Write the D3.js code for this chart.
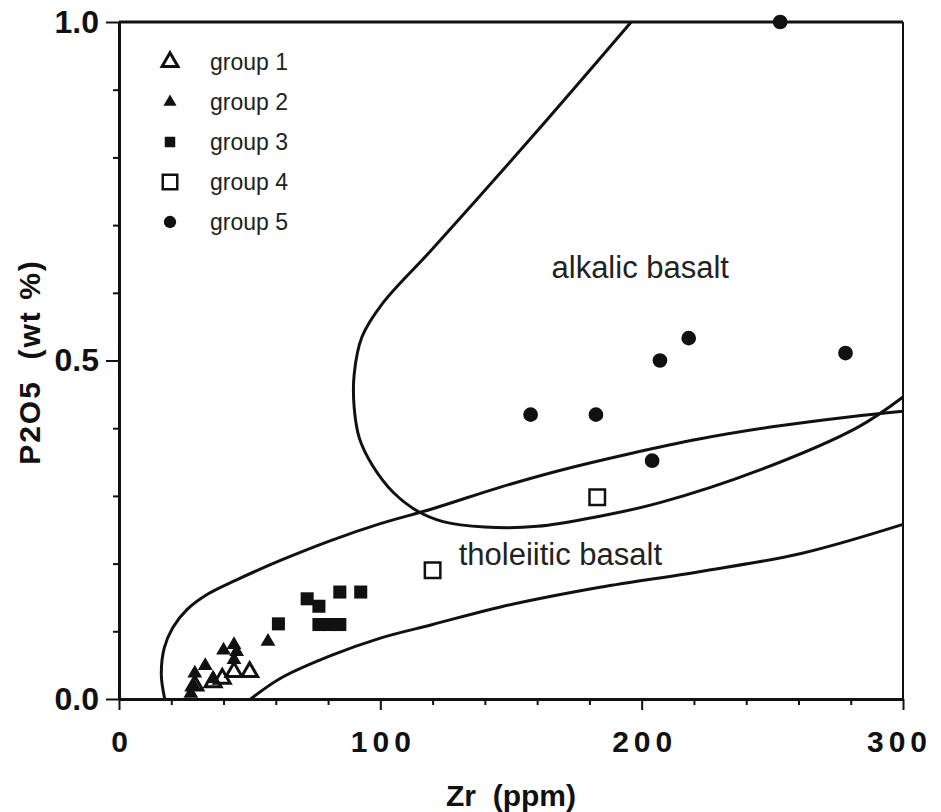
<!DOCTYPE html>
<html>
<head>
<meta charset="utf-8">
<script src="https://d3js.org/d3.v7.min.js"></script>
<style>
  body { margin: 0; background: #fff; }
  svg { font-family: "Liberation Sans", Arial, sans-serif; }
  .axis path, .axis line { stroke: #111; }
  .axis text { font-weight: bold; fill: #111; }
  .field { fill: none; stroke: #111; stroke-width: 3; }
  .legend text, .fieldlabel { fill: #222; }
</style>
</head>
<body>
<script>
// legend names
var groupNames = ["group 1", "group 2", "group 3", "group 4", "group 5"];

// samples, [Zr ppm, P2O5 wt %]
var group1 = [[29, 0.02], [36, 0.025], [39.5, 0.03], [44, 0.04], [50, 0.04]];
var group2 = [[27.5, 0.008], [28.5, 0.02], [29, 0.038], [33, 0.049], [36, 0.03],
              [40, 0.072], [44, 0.08], [45, 0.07], [44, 0.058], [57, 0.085]];
var group3 = [[61, 0.111], [72, 0.148], [76.5, 0.137], [84.5, 0.158], [92.5, 0.158],
              [76.5, 0.11], [80.5, 0.11], [84.5, 0.11]];
var group4 = [[120, 0.19], [183, 0.298]];
var group5 = [[253, 1.0], [157.5, 0.42], [182.5, 0.42], [204, 0.352], [207, 0.5],
              [218, 0.533], [278, 0.511]];

// field boundaries
var tholLower = [[50.4, 0], [62, 0.031], [81, 0.064], [100, 0.09], [120, 0.11],
                 [146, 0.136], [184, 0.165], [222, 0.188], [261, 0.215], [300, 0.258]];
var tholUpper = [[17.5, 0], [16.2, 0.035], [17.3, 0.075], [20.5, 0.105], [26, 0.132],
                 [34, 0.155], [45, 0.176], [62, 0.205], [81, 0.234], [100, 0.259],
                 [120, 0.281], [146, 0.313], [169, 0.338], [195, 0.362], [222, 0.384],
                 [250, 0.402], [280, 0.417], [300, 0.425]];
var alkalic = [[196, 1.0], [158, 0.83], [120, 0.665], [101, 0.585], [93, 0.535],
               [90, 0.48], [90, 0.43], [92, 0.385], [97, 0.345], [105, 0.305],
               [114, 0.278], [124, 0.262], [140, 0.254], [160, 0.255], [184, 0.27],
               [207, 0.29], [245, 0.338], [283, 0.402], [300, 0.446]];

var xTicks = d3.range(0, 301, 20);
var yTicks = d3.range(0, 11).map(function(i) { return i / 10; });

var width = 941, height = 812;

var svg = d3.select("body").append("svg")
  .attr("width", width)
  .attr("height", height);

var x = d3.scaleLinear().domain([0, 300]).range([119, 903]);
var y = d3.scaleLinear().domain([0, 1]).range([699, 22]);

// frame, top and right
svg.append("line")
  .attr("x1", x(0)).attr("x2", x(300))
  .attr("y1", y(1)).attr("y2", y(1))
  .attr("stroke", "#111").attr("stroke-width", 3);
svg.append("line")
  .attr("x1", x(300)).attr("x2", x(300))
  .attr("y1", y(1)).attr("y2", y(0))
  .attr("stroke", "#111").attr("stroke-width", 2);

var xAxis = d3.axisBottom(x)
  .tickValues(xTicks)
  .tickSizeOuter(0)
  .tickPadding(26)
  .tickFormat(function(d) { return d % 100 === 0 ? d : ""; });

var gx = svg.append("g")
  .attr("class", "axis")
  .attr("transform", "translate(0," + y(0) + ")")
  .call(xAxis);
gx.select(".domain").attr("stroke-width", 3);
gx.selectAll(".tick line")
  .attr("stroke-width", 2)
  .attr("y2", function(d) { return d % 100 === 0 ? 11 : 6; });
gx.selectAll(".tick text")
  .style("font-size", "30px")
  .style("letter-spacing", "5px")
  .attr("dx", function(d) { return d === 300 ? "-4px" : "2.5px"; });

var yAxis = d3.axisLeft(y)
  .tickValues(yTicks)
  .tickSizeOuter(0)
  .tickPadding(8)
  .tickFormat(function(d) { return (Math.round(d * 10) % 5 === 0) ? d.toFixed(1) : ""; });

var gy = svg.append("g")
  .attr("class", "axis")
  .attr("transform", "translate(" + x(0) + ",0)")
  .call(yAxis);
gy.select(".domain").attr("stroke-width", 3);
gy.selectAll(".tick line")
  .attr("stroke-width", 2)
  .attr("x2", function(d) { return (Math.round(d * 10) % 5 === 0) ? -13 : -6; });
gy.selectAll(".tick text")
  .style("font-size", "32px")
  .attr("x", -20);

// axis titles
svg.append("text")
  .attr("x", 511)
  .attr("y", 806)
  .attr("text-anchor", "middle")
  .style("font-size", "30px")
  .style("font-weight", "bold")
  .style("white-space", "pre")
  .attr("fill", "#111")
  .text("Zr  (ppm)");

svg.append("text")
  .attr("transform", "translate(40,362) rotate(-90)")
  .attr("text-anchor", "middle")
  .style("font-size", "30px")
  .style("font-weight", "bold")
  .style("white-space", "pre")
  .style("letter-spacing", "2px")
  .attr("fill", "#111")
  .text("P2O5  (wt %)");

// field boundaries
var line = d3.line()
  .x(function(d) { return x(d[0]); })
  .y(function(d) { return y(d[1]); })
  .curve(d3.curveCatmullRom.alpha(0.5));

[tholLower, tholUpper, alkalic].forEach(function(pts) {
  svg.append("path")
    .attr("class", "field")
    .attr("d", line(pts));
});

svg.append("text")
  .attr("class", "fieldlabel")
  .attr("x", x(165.5))
  .attr("y", y(0.622))
  .style("font-size", "31px")
  .text("alkalic basalt");

svg.append("text")
  .attr("class", "fieldlabel")
  .attr("x", x(130))
  .attr("y", y(0.198))
  .style("font-size", "31px")
  .text("tholeiitic basalt");

// markers
var styles = [
  { data: group1, type: d3.symbolTriangle, size: 110, fill: "#fff", stroke: 3 },
  { data: group2, type: d3.symbolTriangle, size: 95, fill: "#111", stroke: 0 },
  { data: group3, type: d3.symbolSquare, size: 170, fill: "#111", stroke: 0 },
  { data: group4, type: d3.symbolSquare, size: 240, fill: "#fff", stroke: 2.5 },
  { data: group5, type: d3.symbolCircle, size: 170, fill: "#111", stroke: 0 }
];

styles.forEach(function(s) {
  svg.append("g")
    .selectAll("path")
    .data(s.data)
    .join("path")
    .attr("transform", function(d) { return "translate(" + x(d[0]) + "," + y(d[1]) + ")"; })
    .attr("d", d3.symbol().type(s.type).size(s.size))
    .attr("fill", s.fill)
    .attr("stroke", s.stroke ? "#111" : "none")
    .attr("stroke-width", s.stroke);
});

// legend
var legendSizes = [110, 75, 110, 210, 120];
var legend = svg.append("g").attr("class", "legend");
groupNames.forEach(function(name, i) {
  var s = styles[i];
  var ly = 62 + i * 40;
  legend.append("path")
    .attr("transform", "translate(170," + ly + ")")
    .attr("d", d3.symbol().type(s.type).size(legendSizes[i]))
    .attr("fill", s.fill)
    .attr("stroke", s.stroke ? "#111" : "none")
    .attr("stroke-width", s.stroke);
  legend.append("text")
    .attr("x", 210)
    .attr("y", ly + 8)
    .style("font-size", "23px")
    .text(name);
});
</script>
</body>
</html>
